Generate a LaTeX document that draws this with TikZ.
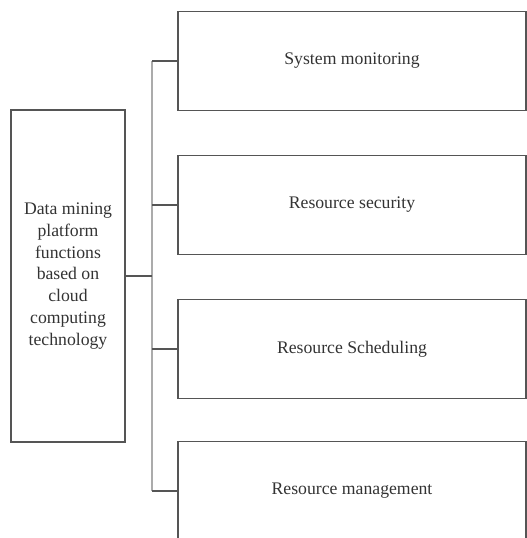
\documentclass[tikz,border=0pt]{standalone}
\usepackage{fontspec}
\setmainfont{Liberation Serif}
\definecolor{linegray}{HTML}{555555}
\definecolor{trunkgray}{HTML}{ABABAB}
\definecolor{textgray}{HTML}{333333}
\begin{document}
\begin{tikzpicture}[x=1pt,y=-1pt,
  every node/.style={inner sep=0pt, outer sep=0pt, text=textgray, font=\fontsize{17.7}{21.7}\selectfont},
  leftbox/.style={draw=linegray, line width=1.3pt, minimum width=114pt, minimum height=332pt, align=center},
  rbox/.style={draw=linegray, line width=1.3pt, minimum width=348pt, minimum height=99pt},
  branch/.style={draw=linegray, line width=1.3pt},
  trunk/.style={draw=trunkgray, line width=2.5pt}]
\useasboundingbox (0,0) rectangle (527,538);
\clip (0,0) rectangle (527,538);
\node[leftbox] (main) at (68,276) {Data mining\\platform\\functions\\based on\\cloud\\computing\\technology};
\node[rbox] (b1) at (352,61) {System monitoring};
\node[rbox] (b2) at (352,205) {Resource security};
\node[rbox] (b3) at (352,349) {Resource Scheduling};
\node[rbox] (b4) at (352,491) {Resource management};
\coordinate (t1) at (152,61);
\coordinate (t4) at (152,491);
\coordinate (tm) at (152,276);
\draw[trunk] (t1) -- (t4);
\draw[branch] (main.east) -- (tm);
\draw[branch] (t1) -- (b1.west);
\draw[branch] (b2.west -| t1) -- (b2.west);
\draw[branch] (b3.west -| t1) -- (b3.west);
\draw[branch] (t4) -- (b4.west);
\end{tikzpicture}
\end{document}
